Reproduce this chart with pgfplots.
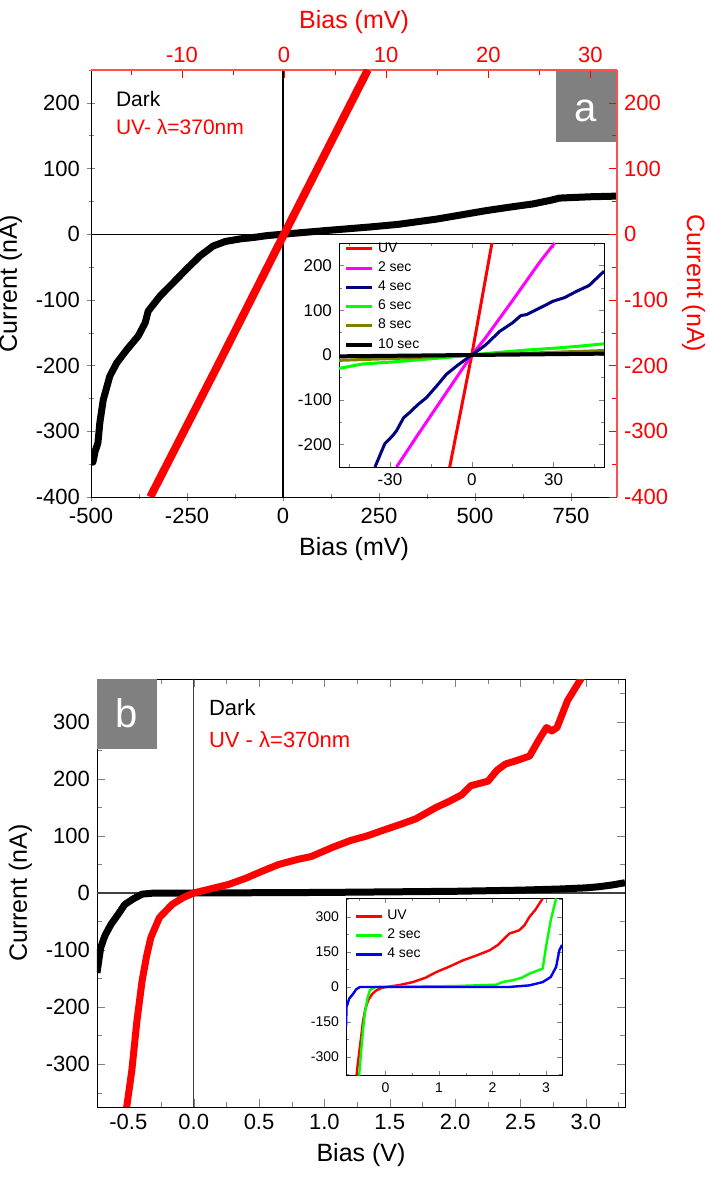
\documentclass[border=0pt]{standalone}
\usepackage{fontspec}
\setmainfont{Liberation Sans}
\usepackage{pgfplots}
\pgfplotsset{compat=1.18}

\definecolor{axred}{RGB}{255,80,80}
\definecolor{navy}{RGB}{0,0,128}
\definecolor{oliv}{RGB}{128,128,0}
\definecolor{boxgray}{RGB}{128,128,128}
\definecolor{lime}{RGB}{0,255,0}
\definecolor{magen}{RGB}{255,0,255}

\pgfplotsset{
  base/.style={
    scale only axis,
    /pgf/number format/assume math mode=true,
    tick label style={font=\fontsize{11}{12}\selectfont},
    label style={font=\fontsize{12.5}{14}\selectfont},
    axis line style={-},
    major tick length=4pt, minor tick length=2.5pt,
    every axis plot/.append style={line join=round},
  },
  inset/.style={
    scale only axis,
    /pgf/number format/assume math mode=true,
    axis background/.style={fill=white},
    tick align=inside,
    major tick length=2.5pt, minor tick length=1.5pt,
    legend style={draw=none, fill=none, inner sep=1pt,
      font=\fontsize{7}{8}\selectfont, row sep=-0.8pt},
    legend cell align=left,
    legend image code/.code={\draw[##1] (0pt,0pt) -- (13pt,0pt);},
    every axis plot/.append style={line join=round},
  },
}

\begin{document}
\begin{tikzpicture}
\path[use as bounding box] (0pt,0pt) rectangle (355pt,588.5pt);

% ---------- panel a: dark, bottom/left axes
\begin{axis}[base, at={(45.5pt,340pt)}, anchor=south west,
  width=263pt, height=213.5pt,
  axis x line*=bottom, axis y line*=left,
  xmin=-500, xmax=870, ymin=-400, ymax=250,
  xtick={-500,-250,0,250,500,750}, minor xtick={-375,-125,125,375,625,875},
  ytick={-400,-300,...,200}, minor ytick={-350,-250,...,250},
  tick align=center,
  xlabel={Bias (mV)}, ylabel={Current (nA)},
  ]
  \draw[black, line width=0.6pt] (axis cs:-500,0) -- (axis cs:870,0);
  \draw[black, line width=0.6pt] (axis cs:0,-400) -- (axis cs:0,250);
  \addplot[black, line width=3.5pt] coordinates {
    (-500,-347) (-495,-347) (-489,-330) (-482,-318) (-477,-287) (-468,-252)
    (-451,-216) (-433,-196) (-407,-176) (-377,-155) (-359,-135) (-351,-117)
    (-320,-94) (-286,-74) (-251,-53) (-216,-33) (-182,-18) (-150,-11)
    (-110,-7) (-77,-5) (-40,-2) (0,0) (100,5) (226,11) (300,15) (400,23)
    (450,28) (500,33) (530,36) (600,42) (650,46) (700,52) (720,55) (800,57)
    (870,58)
  };
\end{axis}

\fill[boxgray] (278pt,517.5pt) rectangle (308.5pt,553.5pt);
\node[white, font=\fontsize{20}{20}\selectfont] at (293pt,533pt) {a};
\node[anchor=west, font=\fontsize{10.5}{12}\selectfont] at (54.5pt,539pt) {Dark};
\node[anchor=west, red, font=\fontsize{10.5}{12}\selectfont] at (54.5pt,525pt) {UV- λ=370nm};

% ---------- panel a: UV, top/right axes
\begin{axis}[base, at={(45.5pt,340pt)}, anchor=south west,
  width=263pt, height=213.5pt,
  axis x line*=top, axis y line*=right,
  axis line style={axred, line width=0.8pt},
  xmin=-18.9, xmax=32.6, ymin=-400, ymax=250,
  xtick={-10,0,...,30}, minor xtick={-15,-5,...,30},
  ytick={-400,-300,...,200}, minor ytick={-350,-250,...,250},
  tick align=inside, tick style={red},
  tick label style={red}, label style={red},
  xlabel={Bias (mV)}, ylabel={Current (nA)},
  ylabel style={rotate=180},
  ]
  \addplot[red, line width=4pt] coordinates {
    (-13.1,-400) (-6.5,-200) (0,0) (4.1,125) (8.2,250)
  };
\end{axis}

% ---------- panel a inset
\begin{axis}[inset, at={(169.5pt,355pt)}, anchor=south west,
  width=132.5pt, height=112pt,
  xmin=-48.7, xmax=48.5, ymin=-250, ymax=250,
  xtick={-30,0,30}, minor xtick={-45,-15,15,45},
  ytick={-200,-100,...,200}, minor ytick={-250,-150,...,250},
  tick label style={font=\fontsize{8.5}{9}\selectfont},
  legend style={at={(0.01,1.03)}, anchor=north west},
  ]
  \addplot[red, line width=1.5pt] coordinates {(-8.1,-250) (0,0) (7.4,250)};
  \addlegendentry{UV}
  \addplot[magen, line width=1.5pt] coordinates {
    (-27.6,-250) (-20,-180) (-10,-90) (-5,-45) (0,0) (5,38) (10,80)
    (15,122) (20,165) (25,208) (30.4,250)};
  \addlegendentry{2 sec}
  \addplot[navy, line width=1.5pt] coordinates {
    (-35.5,-250) (-31.9,-198) (-29,-180) (-27.6,-169) (-25,-140) (-22.7,-128)
    (-20,-112) (-16.6,-95) (-13,-70) (-9.3,-43) (-5,-22) (0,0) (5,22)
    (10.3,53) (15,72) (18,88) (20,90) (25,105) (29.8,120) (34,128)
    (38.4,142) (43,155) (48.5,187)};
  \addlegendentry{4 sec}
  \addplot[lime, line width=1.5pt] coordinates {
    (-48.7,-30) (-40,-20) (-30,-16) (-20,-11) (-10,-6) (0,0) (10,6)
    (20,11) (30,15) (40,20) (48.5,25)};
  \addlegendentry{6 sec}
  \addplot[oliv, line width=1.5pt] coordinates {
    (-48.7,-12) (-25,-7) (0,0) (25,5) (48.5,10)};
  \addlegendentry{8 sec}
  \addplot[black, line width=2pt] coordinates {(-48.7,-3) (0,0) (48.5,3)};
  \addlegendentry{10 sec}
\end{axis}

% ---------- panel b
\begin{axis}[base, at={(48.5pt,35pt)}, anchor=south west,
  width=264pt, height=214pt,
  xmin=-0.74, xmax=3.3, ymin=-375, ymax=375,
  xtick={-0.5,0,0.5,1,1.5,2,2.5,3},
  minor xtick={-0.75,-0.25,0.25,0.75,1.25,1.75,2.25,2.75,3.25},
  xticklabel style={/pgf/number format/.cd, fixed, fixed zerofill, precision=1},
  ytick={-300,-200,...,300}, minor ytick={-350,-250,...,350},
  tick align=inside,
  xlabel={Bias (V)}, ylabel={Current (nA)},
  ]
  \draw[black!75, line width=0.6pt] (axis cs:-0.74,0) -- (axis cs:3.3,0);
  \draw[black!75, line width=0.6pt] (axis cs:0,-375) -- (axis cs:0,375);
  \addplot[black, line width=3.5pt] coordinates {
    (-0.74,-140) (-0.712,-96) (-0.68,-75) (-0.633,-55) (-0.58,-38)
    (-0.527,-20) (-0.46,-10) (-0.395,-2) (-0.3,0) (0,0) (0.5,0.5) (1,1)
    (1.5,2) (2,3) (2.5,5) (2.8,7) (3.0,9) (3.1,11) (3.2,14) (3.3,18)
  };
  \addplot[red, line width=3.5pt] coordinates {
    (-0.514,-377) (-0.474,-312) (-0.435,-225) (-0.395,-154) (-0.36,-110)
    (-0.328,-78) (-0.262,-43) (-0.165,-20) (-0.08,-8) (0,0) (0.267,15)
    (0.4,26) (0.532,39) (0.65,50) (0.797,59) (0.9,64) (1.062,80) (1.2,92)
    (1.326,100) (1.45,110) (1.591,121) (1.7,130) (1.855,150) (1.95,160)
    (2.05,172) (2.12,188) (2.252,196) (2.32,215) (2.385,226) (2.47,232)
    (2.57,240) (2.65,272) (2.70,290) (2.74,284) (2.78,290) (2.86,337)
    (2.97,378)
  };
\end{axis}

\fill[boxgray] (48.5pt,214pt) rectangle (78.5pt,249pt);
\node[white, font=\fontsize{20}{20}\selectfont] at (63.5pt,232pt) {b};
\node[anchor=west, font=\fontsize{11}{12}\selectfont] at (101pt,234.5pt) {Dark};
\node[anchor=west, red, font=\fontsize{11}{12}\selectfont] at (101pt,218.5pt) {UV - λ=370nm};

% ---------- panel b inset
\begin{axis}[inset, at={(173pt,50.65pt)}, anchor=south west,
  width=108pt, height=88.7pt,
  xmin=-0.74, xmax=3.3, ymin=-380, ymax=380,
  xtick={0,1,2,3}, minor xtick={-0.5,0.5,1.5,2.5},
  ytick={-300,-150,0,150,300}, minor ytick={-375,-225,-75,75,225,375},
  tick label style={font=\fontsize{7}{8}\selectfont},
  legend style={at={(0.03,0.97)}, anchor=north west},
  ]
  \addplot[red, line width=1.2pt] coordinates {
    (-0.543,-380) (-0.52,-330) (-0.481,-257) (-0.45,-200) (-0.42,-143)
    (-0.38,-95) (-0.326,-57) (-0.25,-30) (-0.17,-14) (-0.08,-5) (0,0)
    (0.25,8) (0.51,21) (0.75,40) (0.95,64) (1.2,88) (1.446,114) (1.7,135)
    (1.944,157) (2.1,180) (2.317,229) (2.5,243) (2.6,265) (2.69,300)
    (2.8,330) (2.938,379)};
  \addlegendentry{UV}
  \addplot[lime, line width=1.2pt] coordinates {
    (-0.494,-380) (-0.45,-257) (-0.42,-180) (-0.388,-114) (-0.34,-50)
    (-0.295,-14) (-0.2,0) (1.3,4) (2.07,10) (2.2,22) (2.38,29) (2.55,40)
    (2.69,57) (2.94,79) (3.0,171) (3.09,286) (3.19,380)};
  \addlegendentry{2 sec}
  \addplot[blue, line width=1.2pt] coordinates {
    (-0.74,-171) (-0.73,-86) (-0.68,-50) (-0.606,-29) (-0.55,-10)
    (-0.48,0) (2.31,0) (2.69,7) (2.94,21) (3.09,43) (3.19,86) (3.25,157)
    (3.3,180)};
  \addlegendentry{4 sec}
\end{axis}
\end{tikzpicture}
\end{document}
